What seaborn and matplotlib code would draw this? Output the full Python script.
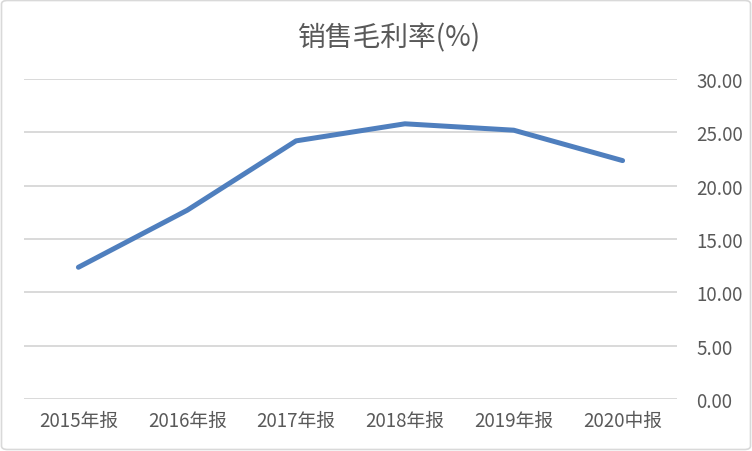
import matplotlib
matplotlib.use("Agg")
import matplotlib.pyplot as plt
import seaborn as sns
import pandas as pd
from matplotlib.patches import FancyBboxPatch

categories = ["2015年报", "2016年报", "2017年报", "2018年报", "2019年报", "2020中报"]
values = [12.35, 17.7, 24.2, 25.8, 25.2, 22.35]
yticks = [0, 5, 10, 15, 20, 25, 30]
title = "销售毛利率(%)"

sns.set_theme(style="white")
plt.rcParams['font.family'] = ['Noto Sans CJK SC', 'DejaVu Sans']

df = pd.DataFrame({"cat": categories, "val": values})

W, H = 752, 452
fig = plt.figure(figsize=(W / 100, H / 100), dpi=100)
left, right, top, bottom = 24, 677, 80, 400
ax = fig.add_axes([left / W, 1 - bottom / H, (right - left) / W, (bottom - top) / H])

sns.lineplot(data=df, x="cat", y="val", ax=ax, color="#4F7FBE", linewidth=3.6,
             sort=False, solid_capstyle="round")

ax.set_xlim(-0.5, len(categories) - 0.5)
ax.set_ylim(0, 30)
ax.set_yticks(yticks)
ax.set_yticklabels([f"{v:.2f}" for v in yticks])
ax.yaxis.tick_right()
ax.tick_params(axis="y", length=0, pad=14, labelsize=13.5, labelcolor="#595959")
ax.tick_params(axis="x", length=0, pad=8, labelsize=13.5, labelcolor="#595959")
ax.set_xlabel("")
ax.set_ylabel("")
ax.grid(axis="y", color="#D9D9D9", linewidth=1.4)
ax.set_axisbelow(True)
for s in ax.spines.values():
    s.set_visible(False)

fig.text(390 / W, 1 - 38 / H, title, ha="center", va="center", fontsize=20,
         color="#595959")

border = FancyBboxPatch((1.5 / W, 1.5 / H), (W - 3) / W, (H - 3) / H,
                        boxstyle="round,pad=0,rounding_size=0.008",
                        transform=fig.transFigure, fill=False,
                        edgecolor="#D9D9D9", linewidth=1.2)
fig.patches.append(border)

fig.savefig("out.png", dpi=100)
